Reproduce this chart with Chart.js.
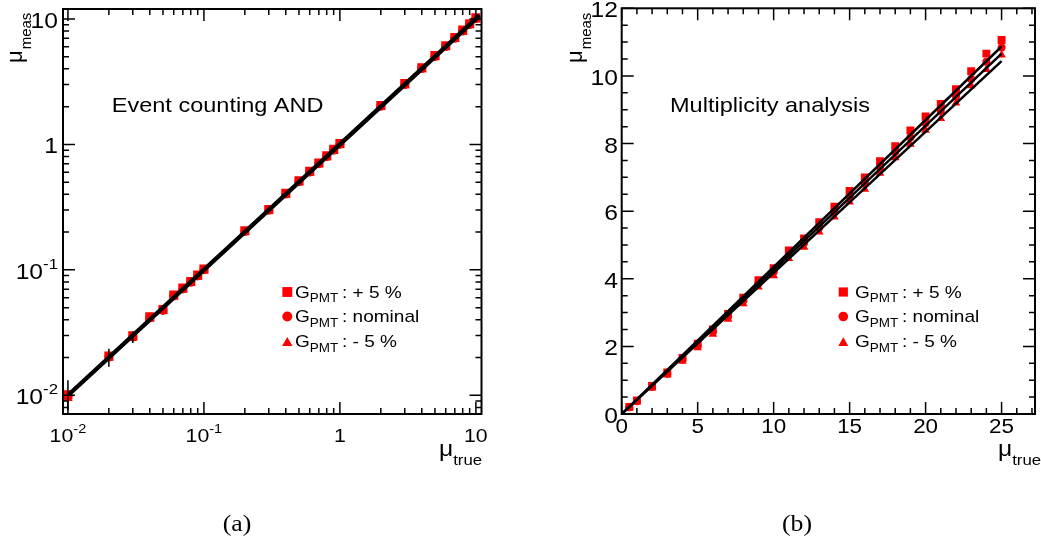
<!DOCTYPE html>
<html>
<head>
<meta charset="utf-8">
<script src="https://cdn.jsdelivr.net/npm/chart.js@4.4.1/dist/chart.umd.min.js"></script>
<style>
  html, body { margin: 0; padding: 0; background: #fff; }
  #wrap { position: relative; width: 1041px; height: 545px; overflow: hidden; }
  canvas { position: absolute; top: 0; }
</style>
</head>
<body>
<div id="wrap">
  <canvas id="chartA" width="520" height="545" style="left:0"></canvas>
  <canvas id="chartB" width="521" height="545" style="left:520px"></canvas>
</div>
<script>
// ---- (a) Event counting AND, log-log ----
const muTrueA  = [0.01, 0.02, 0.03, 0.04, 0.05, 0.06, 0.07, 0.08, 0.09, 0.1, 0.2, 0.3, 0.4, 0.5, 0.6, 0.7, 0.8, 0.9, 1, 2, 3, 4, 5, 6, 7, 8, 9, 10];
const plusA    = [0.0101, 0.0206, 0.0298, 0.0422, 0.0483, 0.0630, 0.0716, 0.0808, 0.0908, 0.1015, 0.205, 0.303, 0.408, 0.512, 0.612, 0.712, 0.812, 0.913, 1.015, 2.04, 3.05, 4.08, 5.1, 6.12, 7.1, 8.14, 9.15, 10.2];
const nominalA = [0.0098, 0.0202, 0.0292, 0.0415, 0.0475, 0.0620, 0.0705, 0.0795, 0.0895, 0.1, 0.202, 0.298, 0.402, 0.505, 0.603, 0.702, 0.8, 0.9, 1.0, 2.01, 3.0, 4.02, 5.02, 6.03, 7.0, 8.02, 9.02, 10.05];
const minusA   = [0.0095, 0.0198, 0.0286, 0.0408, 0.0467, 0.0610, 0.0694, 0.0782, 0.0882, 0.0985, 0.199, 0.293, 0.396, 0.498, 0.594, 0.692, 0.788, 0.887, 0.985, 1.98, 2.95, 3.96, 4.94, 5.94, 6.9, 7.9, 8.89, 9.9];
// error bars (only visible at the lowest points)
const errXA  = [0.01, 0.02, 0.03];
const errLoA = [0.0076, 0.0169, 0.0261];
const errHiA = [0.0132, 0.0235, 0.0322];
// fit lines (end points)
const fitXA      = [0.0102, 10.6];
const fitPlusA   = [0.0103, 10.75];
const fitNomA    = [0.0102, 10.6];
const fitMinusA  = [0.0101, 10.45];
const tickValsA  = [0.01, 0.1, 1, 10];
const tickLabsA  = [['10', '-2'], ['10', '-1'], ['1', ''], ['10', '']];

// ---- (b) Multiplicity analysis, linear ----
const muTrueB  = [0.5, 1, 2, 3, 4, 5, 6, 7, 8, 9, 10, 11, 12, 13, 14, 15, 16, 17, 18, 19, 20, 21, 22, 23, 24, 25];
const plusB    = [0.21, 0.40, 0.83, 1.23, 1.66, 2.08, 2.50, 2.96, 3.44, 3.96, 4.31, 4.84, 5.19, 5.67, 6.13, 6.60, 7.00, 7.48, 7.92, 8.39, 8.80, 9.17, 9.61, 10.14, 10.66, 11.06];
const nominalB = [0.20, 0.38, 0.80, 1.19, 1.61, 2.02, 2.43, 2.88, 3.35, 3.86, 4.20, 4.72, 5.06, 5.52, 5.98, 6.44, 6.82, 7.30, 7.75, 8.18, 8.60, 8.96, 9.40, 9.91, 10.42, 10.84];
const minusB   = [0.19, 0.36, 0.77, 1.15, 1.56, 1.96, 2.36, 2.80, 3.26, 3.76, 4.09, 4.60, 4.93, 5.38, 5.83, 6.27, 6.65, 7.12, 7.58, 7.98, 8.39, 8.74, 9.20, 9.71, 10.19, 10.62];
const fitXB      = [0, 25];
const fitPlusB   = [0, 10.87];
const fitNomB    = [0, 10.66];
const fitMinusB  = [0, 10.44];
const xTickValsB = [0, 5, 10, 15, 20, 25];
const yTickValsB = [0, 2, 4, 6, 8, 10, 12];

const legendLabels = [': + 5 %', ': nominal', ': - 5 %'];
const RED = '#ff0000';
const SX = 1.12;   // glyphs in the reference are a bit wider than tall
const SANS = '"Liberation Sans", Arial, sans-serif';

function textW(ctx, s, size, font) {
  ctx.font = size + 'px ' + (font || SANS);
  return ctx.measureText(s).width * SX;
}
function txt(ctx, s, x, y, size, align, font) {
  const w = textW(ctx, s, size, font);
  let x0 = x;
  if (align === 'center') x0 = x - w / 2;
  else if (align === 'right') x0 = x - w;
  ctx.save();
  ctx.font = size + 'px ' + (font || SANS);
  ctx.textAlign = 'left';
  ctx.textBaseline = 'alphabetic';
  ctx.translate(x0, y);
  ctx.scale(SX, 1);
  ctx.fillText(s, 0, 0);
  ctx.restore();
  return w;
}
// label with optional superscript, e.g. 10^-2
function supLabel(ctx, base, sup, x, y, size, align) {
  const ss = Math.round(size * 0.66);
  const w = textW(ctx, base, size) + (sup ? textW(ctx, sup, ss) : 0);
  let x0 = x;
  if (align === 'center') x0 = x - w / 2;
  else if (align === 'right') x0 = x - w;
  const wb = txt(ctx, base, x0, y, size, 'left');
  if (sup) txt(ctx, sup, x0 + wb, y - size * 0.45, ss, 'left');
}
function marker(ctx, style, x, y, r) {
  ctx.beginPath();
  if (style === 'rect') {
    const s = r * Math.SQRT1_2;
    ctx.rect(x - s, y - s, 2 * s, 2 * s);
  } else if (style === 'circle') {
    ctx.arc(x, y, r, 0, Math.PI * 2);
  } else {
    ctx.moveTo(x, y - r);
    ctx.lineTo(x + r * 0.866, y + r * 0.5);
    ctx.lineTo(x - r * 0.866, y + r * 0.5);
    ctx.closePath();
  }
  ctx.fill();
}
function logMinor(min, max) {
  const out = [];
  for (let e = -3; e <= 2; e++) {
    for (let k = 2; k <= 9; k++) {
      const v = k * Math.pow(10, e);
      if (v > min && v < max) out.push(v);
    }
  }
  return out;
}
function linMinor(min, max, step) {
  const out = [];
  for (let v = min; v <= max + 1e-9; v += step) out.push(+v.toFixed(6));
  return out;
}

const panelPlugin = {
  id: 'panel',
  afterDatasetsDraw(chart, args, o) {
    const ctx = chart.ctx;
    const a = chart.chartArea;
    const xs = chart.scales.x, ys = chart.scales.y;
    ctx.save();
    // error bars
    if (o.errX) {
      ctx.strokeStyle = '#000';
      ctx.lineWidth = 1.5;
      ctx.beginPath();
      o.errX.forEach((x, i) => {
        const px = xs.getPixelForValue(x);
        ctx.moveTo(px, ys.getPixelForValue(o.errLo[i]));
        ctx.lineTo(px, ys.getPixelForValue(o.errHi[i]));
      });
      ctx.stroke();
    }
    // frame
    ctx.strokeStyle = '#000';
    ctx.lineWidth = 2;
    ctx.strokeRect(a.left, a.top, a.right - a.left, a.bottom - a.top);
    // tick marks on all four sides, inside the frame
    ctx.lineWidth = 1.5;
    ctx.beginPath();
    const tickX = (vals, len) => vals.forEach(v => {
      const p = xs.getPixelForValue(v);
      if (p < a.left - 0.5 || p > a.right + 0.5) return;
      ctx.moveTo(p, a.bottom); ctx.lineTo(p, a.bottom - len);
      ctx.moveTo(p, a.top); ctx.lineTo(p, a.top + len);
    });
    const tickY = (vals, len) => vals.forEach(v => {
      const p = ys.getPixelForValue(v);
      if (p < a.top - 0.5 || p > a.bottom + 0.5) return;
      ctx.moveTo(a.left, p); ctx.lineTo(a.left + len, p);
      ctx.moveTo(a.right, p); ctx.lineTo(a.right - len, p);
    });
    tickX(o.xMajor, 12); tickX(o.xMinor, 6);
    tickY(o.yMajor, 12); tickY(o.yMinor, 6);
    ctx.stroke();

    // tick labels
    ctx.fillStyle = '#000';
    o.xMajor.forEach((v, i) => {
      const l = o.xLabels[i];
      supLabel(ctx, l[0], l[1], xs.getPixelForValue(v), o.xLabelY, o.xLabelSize, 'center');
    });
    o.yMajor.forEach((v, i) => {
      const l = o.yLabels[i];
      supLabel(ctx, l[0], l[1], o.yLabelRight - o.ox, ys.getPixelForValue(v) + 9, o.yLabelSize, 'right');
    });

    // axis titles
    const mx = o.muTrueX - o.ox;
    const wm = txt(ctx, '\u03bc', mx, 456, 22, 'left');
    txt(ctx, 'true', mx + wm, 465, 15, 'left');
    ctx.save();
    ctx.translate(o.muMeasX - o.ox, 63);
    ctx.rotate(-Math.PI / 2);
    ctx.font = '22px ' + SANS;
    ctx.fillText('\u03bc', 0, 0);
    const wmu = ctx.measureText('\u03bc').width;
    ctx.font = '15px ' + SANS;
    ctx.fillText('meas', wmu + 1, 9);
    ctx.restore();

    // title inside the frame
    txt(ctx, o.title, o.titleX - o.ox, 111.7, 21, 'left');

    // legend
    const rows = [292, 316.5, 341.5];
    const styles = ['rect', 'circle', 'triangle'];
    const radii = o.legendR;
    rows.forEach((y, i) => {
      ctx.fillStyle = RED;
      marker(ctx, styles[i], o.legendX - o.ox, styles[i] === 'triangle' ? y + 1.5 : y, radii[i]);
      ctx.fillStyle = '#000';
      const gx = o.legendX - o.ox + (o.legendGap);
      const wg = txt(ctx, 'G', gx, y + 5.7, 17, 'left');
      txt(ctx, 'PMT', gx + wg, y + 10, 12, 'left');
      txt(ctx, legendLabels[i], gx + 47, y + 5.7, 17, 'left');
    });

    // caption under the panel
    txt(ctx, o.caption, o.captionX - o.ox, 531, 23, 'center', '"Liberation Serif", "DejaVu Serif", serif');
    ctx.restore();
  }
};

function pts(xs, ys, style, r) {
  return {
    data: xs.map((x, i) => ({ x: x, y: ys[i] })),
    showLine: false,
    pointStyle: style,
    pointRadius: r,
    pointBackgroundColor: RED,
    pointBorderWidth: 0,
    order: 2
  };
}
function fit(xs, ys, w) {
  return {
    data: xs.map((x, i) => ({ x: x, y: ys[i] })),
    showLine: true,
    borderColor: '#000',
    borderWidth: w,
    pointRadius: 0,
    fill: false,
    order: 1
  };
}
const baseOpts = {
  responsive: false,
  animation: false,
  events: [],
  plugins: { legend: { display: false }, tooltip: { enabled: false } }
};

new Chart(document.getElementById('chartA').getContext('2d'), {
  type: 'scatter',
  data: {
    datasets: [
      pts(muTrueA, plusA, 'rect', 6.4),
      pts(muTrueA, nominalA, 'circle', 4.5),
      pts(muTrueA, minusA, 'triangle', 5.5),
      fit(fitXA, fitPlusA, 3.5),
      fit(fitXA, fitNomA, 3.5),
      fit(fitXA, fitMinusA, 3.5)
    ]
  },
  options: Object.assign({}, baseOpts, {
    layout: { padding: { left: 63, top: 9, right: 38.5, bottom: 131 } },
    scales: {
      x: { type: 'logarithmic', min: 0.0092, max: 11, display: false },
      y: { type: 'logarithmic', min: 0.0071, max: 12, display: false }
    },
    plugins: Object.assign({}, baseOpts.plugins, {
      panel: {
        ox: 0,
        xMajor: tickValsA, xLabels: tickLabsA, xMinor: logMinor(0.0092, 11),
        yMajor: tickValsA, yLabels: tickLabsA, yMinor: logMinor(0.0071, 12),
        xLabelY: 442, xLabelSize: 19, yLabelRight: 58, yLabelSize: 22,
        errX: errXA, errLo: errLoA, errHi: errHiA,
        muTrueX: 439, muMeasX: 22,
        title: 'Event counting AND', titleX: 111.7,
        legendX: 287.3, legendGap: 7.7, legendR: [7, 5, 6],
        caption: '(a)', captionX: 237
      }
    })
  }),
  plugins: [panelPlugin]
});

new Chart(document.getElementById('chartB').getContext('2d'), {
  type: 'scatter',
  data: {
    datasets: [
      pts(muTrueB, plusB, 'rect', 5.6),
      pts(muTrueB, nominalB, 'circle', 4),
      pts(muTrueB, minusB, 'triangle', 5),
      fit(fitXB, fitPlusB, 2.5),
      fit(fitXB, fitNomB, 2.5),
      fit(fitXB, fitMinusB, 2.5)
    ]
  },
  options: Object.assign({}, baseOpts, {
    layout: { padding: { left: 101.7, top: 8.3, right: 6, bottom: 131 } },
    scales: {
      x: { type: 'linear', min: 0, max: 27.2, display: false },
      y: { type: 'linear', min: 0, max: 12, display: false }
    },
    plugins: Object.assign({}, baseOpts.plugins, {
      panel: {
        ox: 520,
        xMajor: xTickValsB, xLabels: xTickValsB.map(v => [String(v), '']), xMinor: linMinor(0, 27, 1),
        yMajor: yTickValsB, yLabels: yTickValsB.map(v => [String(v), '']), yMinor: linMinor(0, 12, 0.5),
        xLabelY: 433, xLabelSize: 20, yLabelRight: 618, yLabelSize: 22,
        muTrueX: 998, muMeasX: 582,
        title: 'Multiplicity analysis', titleX: 670,
        legendX: 843.3, legendGap: 11.7, legendR: [6.5, 4.8, 5.8],
        caption: '(b)', captionX: 797
      }
    })
  }),
  plugins: [panelPlugin]
});
</script>
</body>
</html>
